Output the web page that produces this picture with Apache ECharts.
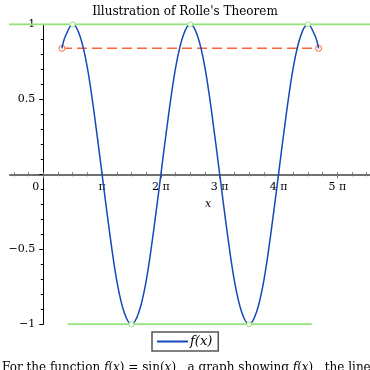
<!DOCTYPE html>
<html><head><meta charset="utf-8">
<script src="https://cdn.jsdelivr.net/npm/echarts@6/dist/echarts.min.js"></script>
<style>html,body{margin:0;padding:0;background:#fff}#c{width:370px;height:370px}</style>
</head><body><div id="c"></div>
<script>
// x values are in units of π
const fX = [0.3183,0.375,0.5,0.625,0.75,0.875,1.0,1.125,1.25,1.375,1.5,1.625,1.75,1.875,2.0,2.125,2.25,2.375,2.5,2.625,2.75,2.875,3.0,3.125,3.25,3.375,3.5,3.625,3.75,3.875,4.0,4.125,4.25,4.375,4.5,4.625,4.6817];
const fY = [0.84,0.92,1,0.92,0.71,0.38,0,-0.38,-0.71,-0.92,-1,-0.92,-0.71,-0.38,0,0.38,0.71,0.92,1,0.92,0.71,0.38,0,-0.38,-0.71,-0.92,-1,-0.92,-0.71,-0.38,0,0.38,0.71,0.92,1,0.92,0.84];
const secantX = [0.3183, 4.6817];
const secantY = [0.84, 0.84];
const topLineX = [-0.6, 5.6];
const topLineY = [1, 1];
const topPointsX = [0.5, 2.5, 4.5];
const bottomLineX = [0.415, 4.565];
const bottomLineY = [-1, -1];
const bottomPointsX = [1.5, 3.5];
const xMajorTicks = [0,1,2,3,4,5];
const xLabelValues = [0,1,2,3,4,5];
const xMinorTicks = [-0.5,-0.25,0,0.25,0.5,0.75,1,1.25,1.5,1.75,2,2.25,2.5,2.75,3,3.25,3.5,3.75,4,4.25,4.5,4.75,5,5.25,5.5];
const yLabelValues = [-1,-0.5,0.5,1];

const zip = (a,b) => a.map((v,i)=>[v,b[i]]);
const SERIF = 'DejaVu Serif';
const xMin = -0.566, xMax = 5.556;
const yMin = -1, yMax = 1;
const G = {left:10, right:0, top:24.3, bottom:45.7};
const W = 370, H = 370;
const gridW = W - G.left - G.right, gridH = H - G.top - G.bottom;
// place axes through the origin by offsetting them from the grid edges
const yAxisOffset = -((0 - xMin) / (xMax - xMin) * gridW);
const xAxisOffset = -((0 - yMin) / (yMax - yMin) * gridH);
const axisGray = '#707070';
const green = '#95e37c', orange = '#f8653c', blue = '#1349b8';

function xAxisBase(extra){
  return Object.assign({
    type:'value', min:xMin, max:xMax, position:'bottom', offset:xAxisOffset,
    axisLine:{show:false, onZero:false},
    splitLine:{show:false},
    axisLabel:{show:false},
    axisTick:{show:false}
  }, extra);
}

const chart = echarts.init(document.getElementById('c'));
chart.setOption({
  animation:false,
  title:{text:"Illustration of Rolle's Theorem", left:'center', top:1,
    textStyle:{fontFamily:SERIF, fontSize:12, fontWeight:'normal', color:'#000'}},
  grid:Object.assign({outerBoundsMode:'none', containLabel:false}, G),
  legend:{data:[{name:'f(x)', icon:'rect'}], left:152, top:332, itemWidth:31, itemHeight:2, itemGap:4,
    padding:[3,6,3,5], borderColor:'#555', borderWidth:1.5, borderRadius:0,
    itemStyle:{color:blue},
    textStyle:{fontFamily:SERIF, fontStyle:'italic', fontSize:13, color:'#000', padding:[0,0,0,-3]}},
  xAxis:[
    xAxisBase({
      axisLine:{show:true, onZero:false, lineStyle:{color:axisGray, width:2}},
      axisTick:{show:true, length:4, customValues:xMajorTicks, lineStyle:{color:axisGray}},
      axisLabel:{show:true, customValues:xLabelValues, margin:7,
        fontFamily:SERIF, fontSize:11, color:'#000',
        formatter:function(v){ if(v===0) return '{z|0}'; return v===1 ? 'π' : v+' π'; },
        rich:{z:{fontFamily:SERIF, fontSize:11, color:'#000', padding:[0,15,0,0]}}},
      name:'x', nameLocation:'middle', nameGap:24,
      nameTextStyle:{fontFamily:SERIF, fontStyle:'italic', fontSize:11, color:'#000', padding:[0,0,0,36]}
    }),
    xAxisBase({axisTick:{show:true, length:2, customValues:xMinorTicks, lineStyle:{color:axisGray}}}),
    xAxisBase({axisTick:{show:true, inside:true, length:2, customValues:xMinorTicks, lineStyle:{color:axisGray}}})
  ],
  yAxis:{type:'value', min:yMin, max:yMax, interval:0.5, position:'left', offset:yAxisOffset,
    axisLine:{show:true, onZero:false, lineStyle:{color:'#000', width:1}},
    axisTick:{show:true, length:4, lineStyle:{color:'#000'}},
    minorTick:{show:true, splitNumber:5, length:2.5, lineStyle:{color:'#000'}},
    splitLine:{show:false},
    axisLabel:{customValues:yLabelValues, margin:8, fontFamily:SERIF, fontSize:11, color:'#000',
      formatter:function(v){ return v<0 ? '−'+Math.abs(v) : String(v); }}
  },
  series:[
    {name:'top', type:'line', data:zip(topLineX, topLineY), symbol:'none',
      lineStyle:{color:green, width:2}, z:1},
    {name:'topPts', type:'line', data:topPointsX.map(v=>[v,1]), symbol:'circle', symbolSize:5,
      lineStyle:{width:0, opacity:0}, itemStyle:{color:'#fff', borderColor:green, borderWidth:1}, z:4},
    {name:'bottom', type:'line', data:zip(bottomLineX, bottomLineY), symbol:'none',
      lineStyle:{color:green, width:2}, z:1},
    {name:'bottomPts', type:'line', data:bottomPointsX.map(v=>[v,-1]), symbol:'circle', symbolSize:5,
      lineStyle:{width:0, opacity:0}, itemStyle:{color:'#fff', borderColor:green, borderWidth:1}, z:4},
    {name:'secant', type:'line', data:zip(secantX, secantY), symbol:'circle', symbolSize:6,
      lineStyle:{color:orange, width:1.5, type:[10,5]},
      itemStyle:{color:'#fff', borderColor:orange, borderWidth:1}, z:2},
    {name:'f(x)', type:'line', data:zip(fX, fY), smooth:0.35, symbol:'none',
      lineStyle:{color:blue, width:1.5}, itemStyle:{color:blue}, z:3}
  ],
  graphic:[{type:'text', left:2, top:361,
    style:{text:'For the function {i|f}({i|x}) = sin({i|x}) , a graph showing {i|f}({i|x}) , the line through the points where {i|f}({i|x}) = sin(1), and the horizontal tangent lines.',
      fontFamily:SERIF, fontSize:12, fill:'#000', lineHeight:14,
      rich:{i:{fontFamily:SERIF, fontSize:12, fontStyle:'italic', fill:'#000', lineHeight:14}}}}]
});
</script></body></html>
